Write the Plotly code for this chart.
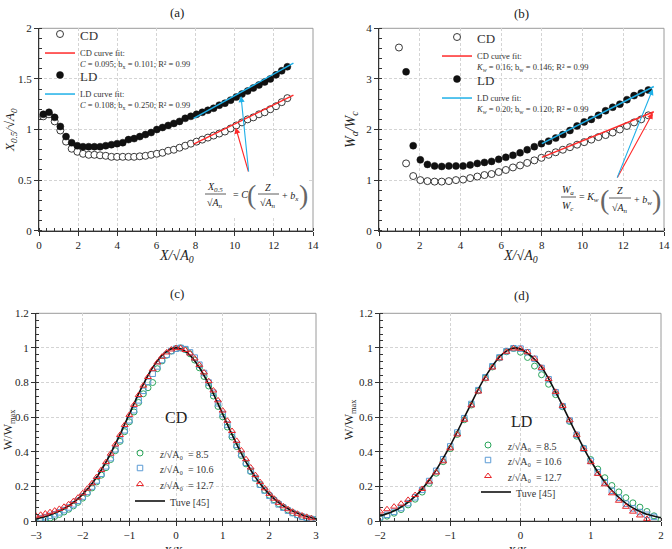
import plotly.graph_objects as go

# ---------------- data ----------------
# panel (a): X0.5/sqrt(A0) vs X/sqrt(A0)
a_x = [0.22, 0.51, 0.80, 1.09, 1.38, 1.67, 1.96, 2.25, 2.54, 2.83, 3.12, 3.41, 3.70, 3.99, 4.28,
       4.57, 4.86, 5.15, 5.44, 5.73, 6.02, 6.31, 6.60, 6.89, 7.18, 7.47, 7.76, 8.05, 8.34, 8.63,
       8.92, 9.21, 9.50, 9.79, 10.08, 10.37, 10.66, 10.95, 11.24, 11.53, 11.82, 12.11, 12.40, 12.69]
a_cd = [1.13, 1.15, 1.08, 0.99, 0.88, 0.81, 0.78, 0.76, 0.75, 0.75, 0.745, 0.74, 0.73, 0.73, 0.73,
        0.73, 0.73, 0.735, 0.74, 0.75, 0.76, 0.77, 0.79, 0.80, 0.82, 0.84, 0.86, 0.88, 0.90, 0.92,
        0.94, 0.96, 0.98, 1.01, 1.04, 1.07, 1.10, 1.12, 1.15, 1.17, 1.20, 1.23, 1.27, 1.31]
a_ld = [1.15, 1.17, 1.12, 1.03, 0.93, 0.87, 0.84, 0.83, 0.83, 0.83, 0.83, 0.84, 0.85, 0.86, 0.87,
        0.90, 0.91, 0.93, 0.95, 0.97, 1.00, 1.02, 1.04, 1.06, 1.08, 1.11, 1.13, 1.15, 1.17, 1.19,
        1.21, 1.24, 1.26, 1.29, 1.32, 1.35, 1.38, 1.41, 1.44, 1.47, 1.50, 1.54, 1.58, 1.62]
a_fit_x = [7.9, 13.0]
a_fit_cd = [0.855, 1.34]
a_fit_ld = [1.11, 1.655]

# panel (b): Wa/Wc vs X/sqrt(A0)
b_x = [0.98, 1.33, 1.68, 2.03, 2.38, 2.73, 3.08, 3.43, 3.78, 4.13, 4.48, 4.83, 5.18, 5.53, 5.88,
       6.23, 6.58, 6.93, 7.28, 7.63, 7.98, 8.33, 8.68, 9.03, 9.38, 9.73, 10.08, 10.43, 10.78, 11.13,
       11.48, 11.83, 12.18, 12.53, 12.88, 13.23]
b_cd = [3.62, 1.33, 1.08, 1.00, 0.98, 0.97, 0.97, 0.98, 1.00, 1.01, 1.04, 1.07, 1.10, 1.12, 1.16,
        1.20, 1.25, 1.29, 1.34, 1.39, 1.44, 1.50, 1.55, 1.60, 1.65, 1.70, 1.75, 1.80, 1.85, 1.89,
        1.94, 2.00, 2.07, 2.14, 2.20, 2.28]
b_ld = [None, 3.14, 1.68, 1.40, 1.31, 1.28, 1.27, 1.28, 1.28, 1.28, 1.30, 1.33, 1.35, 1.37, 1.41,
        1.45, 1.49, 1.54, 1.60, 1.66, 1.72, 1.77, 1.83, 1.90, 1.98, 2.07, 2.15, 2.20, 2.28, 2.37,
        2.44, 2.50, 2.59, 2.67, 2.72, 2.78]
b_fit_x = [8.0, 13.5]
b_fit_cd = [1.45, 2.35]
b_fit_ld = [1.72, 2.85]

# panel (c): CD profiles
c_x = [-3.0, -2.9, -2.8, -2.7, -2.6, -2.5, -2.4, -2.3, -2.2, -2.1, -2.0, -1.9, -1.8, -1.7, -1.6,
       -1.5, -1.4, -1.3, -1.2, -1.1, -1.0, -0.9, -0.8, -0.7, -0.6, -0.5, -0.4, -0.3, -0.2, -0.1,
       0.0, 0.1, 0.2, 0.3, 0.4, 0.5, 0.6, 0.7, 0.8, 0.9, 1.0, 1.1, 1.2, 1.3, 1.4, 1.5, 1.6, 1.7,
       1.8, 1.9, 2.0, 2.1, 2.2, 2.3, 2.4, 2.5, 2.6, 2.7, 2.8, 2.9, 3.0]
c_85 = [None, 0.003, 0.008, 0.016, 0.026, 0.038, 0.052, 0.068, 0.087, 0.108, 0.132, 0.160, 0.191,
        0.226, 0.265, 0.308, 0.355, 0.406, 0.460, 0.516, 0.573, 0.630, 0.685, 0.735, 0.770, 0.800,
        0.880, 0.925, 0.958, 0.982, 0.996, 1.000, 0.990, 0.966, 0.930, 0.885, 0.835, 0.780, 0.722,
        0.662, 0.602, 0.543, 0.485, 0.430, 0.378, 0.330, 0.286, 0.246, 0.210, 0.178, 0.149, 0.123,
        0.100, 0.080, 0.063, 0.048, 0.036, 0.026, 0.018, 0.012, 0.008]
c_106 = [None, 0.015, 0.022, 0.030, 0.039, 0.050, 0.063, 0.078, 0.096, 0.117, 0.141, 0.168, 0.199,
         0.234, 0.273, 0.316, 0.363, 0.414, 0.468, 0.524, 0.582, 0.640, 0.697, 0.752, 0.804, 0.851,
         0.893, 0.930, 0.960, 0.982, 0.995, 1.000, 0.993, 0.974, 0.944, 0.903, 0.855, 0.800, 0.741,
         0.680, 0.618, 0.557, 0.497, 0.440, 0.386, 0.336, 0.290, 0.248, 0.210, 0.176, 0.146, 0.119,
         0.096, 0.077, 0.060, 0.046, 0.035, 0.025, 0.017, 0.011, 0.007]
c_127 = [0.030, 0.036, 0.043, 0.051, 0.060, 0.070, 0.082, 0.097, 0.114, 0.135, 0.160, 0.187, 0.218,
         0.254, 0.295, 0.340, 0.389, 0.442, 0.497, 0.555, 0.613, 0.671, 0.728, 0.782, 0.832, 0.877,
         0.916, 0.949, 0.974, 0.991, 0.999, 0.999, 0.988, 0.968, 0.939, 0.902, 0.858, 0.808, 0.754,
         0.697, 0.638, 0.579, 0.520, 0.463, 0.408, 0.357, 0.309, 0.265, 0.225, 0.189, 0.157, 0.129,
         0.105, 0.085, 0.068, 0.054, 0.042, 0.032, 0.024, 0.016, None]
c_tuve_x = [-3.0, -2.75, -2.5, -2.25, -2.0, -1.75, -1.5, -1.25, -1.0, -0.75, -0.5, -0.25, 0.0,
            0.25, 0.5, 0.75, 1.0, 1.25, 1.5, 1.75, 2.0, 2.25, 2.5, 2.75, 3.0]
c_tuve = [0.012, 0.030, 0.057, 0.096, 0.154, 0.234, 0.341, 0.472, 0.618, 0.763, 0.887, 0.970, 1.0,
          0.970, 0.887, 0.763, 0.618, 0.472, 0.341, 0.234, 0.154, 0.096, 0.057, 0.030, 0.012]

# panel (d): LD profiles
d_x = [-2.0, -1.9, -1.8, -1.7, -1.6, -1.5, -1.4, -1.3, -1.2, -1.1, -1.0, -0.9, -0.8, -0.7, -0.6,
       -0.5, -0.4, -0.3, -0.2, -0.1, 0.0, 0.1, 0.2, 0.3, 0.4, 0.5, 0.6, 0.7, 0.8, 0.9, 1.0, 1.1,
       1.2, 1.3, 1.4, 1.5, 1.6, 1.7, 1.8, 1.9, 2.0]
d_85 = [0.015, 0.028, 0.045, 0.066, 0.093, 0.126, 0.167, 0.217, 0.276, 0.343, 0.418, 0.500, 0.585,
        0.670, 0.752, 0.826, 0.890, 0.942, 0.978, 0.997, 0.975, 0.945, 0.895, 0.845, 0.790, 0.730,
        0.660, 0.575, 0.490, 0.420, 0.355, 0.300, 0.250, 0.205, 0.168, 0.135, 0.105, 0.080, 0.055,
        0.030, 0.005]
d_106 = [0.022, 0.036, 0.053, 0.075, 0.103, 0.137, 0.180, 0.231, 0.290, 0.357, 0.431, 0.511, 0.594,
         0.676, 0.756, 0.830, 0.894, 0.945, 0.981, 0.998, 0.996, 0.975, 0.937, 0.884, 0.819, 0.744,
         0.663, 0.580, 0.498, 0.419, 0.347, 0.281, 0.224, 0.175, 0.134, 0.100, 0.073, 0.052, 0.036,
         0.024, None]
d_127 = [0.055, 0.068, 0.083, 0.100, 0.122, 0.150, 0.185, 0.228, 0.280, 0.345, 0.420, 0.500, 0.585,
         0.668, 0.748, 0.822, 0.887, 0.940, 0.978, 0.997, 0.995, 0.975, 0.938, 0.885, 0.820, 0.746,
         0.665, 0.582, 0.498, 0.416, 0.340, 0.272, 0.212, 0.160, 0.117, 0.082, 0.054, 0.032, 0.012,
         None, None]
d_tuve_x = [-2.0, -1.75, -1.5, -1.25, -1.0, -0.75, -0.5, -0.25, -0.06, 0.25, 0.5, 0.75, 1.0, 1.25,
            1.5, 1.75, 2.0]
d_tuve = [0.029, 0.068, 0.142, 0.264, 0.436, 0.639, 0.834, 0.967, 1.0, 0.914, 0.745, 0.540, 0.348,
          0.199, 0.102, 0.046, 0.019]

# ---------------- styling helpers ----------------
W, H = 672, 549
FONT = "Liberation Serif, Times New Roman, serif"
GREEN, BLUE, RED, CYAN = "#2aa55a", "#5b9bd5", "#e8262a", "#1fb0e8"
RED_FIT = "#ff2a2a"


def PX(x):
    return x / W


def PY(y):
    return 1 - y / H


def axis(domain, rng, dtick, mdtick, anchor):
    return dict(domain=domain, range=rng, dtick=dtick, anchor=anchor, automargin=False,
                showgrid=True, gridcolor="#d4d4d4", griddash="3px,2px", gridwidth=1,
                showline=True, linecolor="#333", linewidth=1, zeroline=False,
                ticks="outside", ticklen=4, tickcolor="#333", tickwidth=1,
                minor=dict(dtick=mdtick, ticks="inside", ticklen=3, tickcolor="#333", showgrid=False),
                tickfont=dict(family=FONT, size=11, color="#222"), fixedrange=True)


fig = go.Figure()

OPEN = dict(symbol="circle", size=7, color="white", line=dict(color="#222", width=0.9))
FILLED = dict(symbol="circle", size=7, color="#111", line=dict(color="#111", width=0.5))

# panel (a)
fig.add_trace(go.Scatter(x=a_x, y=a_cd, mode="markers", xaxis="x", yaxis="y", legend="legend",
                         name="<span style='font-size:13px'>CD</span>", marker=OPEN))
fig.add_trace(go.Scatter(x=a_fit_x, y=a_fit_cd, mode="lines", xaxis="x", yaxis="y", legend="legend",
                         name="CD curve fit:<br><i>C</i> = 0.095; b<sub>x</sub> = 0.101; R² = 0.99",
                         line=dict(color=RED_FIT, width=1.5)))
fig.add_trace(go.Scatter(x=a_x, y=a_ld, mode="markers", xaxis="x", yaxis="y", legend="legend5",
                         name="<span style='font-size:13px'>LD</span>", marker=FILLED))
fig.add_trace(go.Scatter(x=a_fit_x, y=a_fit_ld, mode="lines", xaxis="x", yaxis="y", legend="legend5",
                         name="LD curve fit:<br><i>C</i> = 0.108; b<sub>x</sub> = 0.250; R² = 0.99",
                         line=dict(color=CYAN, width=1.5)))

# panel (b)
fig.add_trace(go.Scatter(x=b_x, y=b_cd, mode="markers", xaxis="x2", yaxis="y2", legend="legend2",
                         name="<span style='font-size:13px'>CD</span>", marker=OPEN))
fig.add_trace(go.Scatter(x=b_fit_x, y=b_fit_cd, mode="lines", xaxis="x2", yaxis="y2", legend="legend2",
                         name="CD curve fit:<br><i>K<sub>w</sub></i> = 0.16; b<sub>w</sub> = 0.146; R² = 0.99",
                         line=dict(color=RED_FIT, width=1.5)))
fig.add_trace(go.Scatter(x=b_x, y=b_ld, mode="markers", xaxis="x2", yaxis="y2", legend="legend6",
                         name="<span style='font-size:13px'>LD</span>", marker=FILLED))
fig.add_trace(go.Scatter(x=b_fit_x, y=b_fit_ld, mode="lines", xaxis="x2", yaxis="y2", legend="legend6",
                         name="LD curve fit:<br><i>K<sub>w</sub></i> = 0.20; b<sub>w</sub> = 0.120; R² = 0.99",
                         line=dict(color=CYAN, width=1.5)))

# panels (c) and (d): one single-entry legend per series so rows sit as in the reference
lab = "<i>z</i>/√A₀  = "
for xs, s85, s106, s127, tx, ty, xa, ya, lgs in [
        (c_x, c_85, c_106, c_127, c_tuve_x, c_tuve, "x3", "y3", ["legend3", "legend7", "legend8", "legend9"]),
        (d_x, d_85, d_106, d_127, d_tuve_x, d_tuve, "x4", "y4", ["legend4", "legend10", "legend11", "legend12"])]:
    fig.add_trace(go.Scatter(x=xs, y=s85, mode="markers", xaxis=xa, yaxis=ya, legend=lgs[0],
                             name=lab + "8.5",
                             marker=dict(symbol="circle-open", size=6, color=GREEN, line=dict(width=1))))
    fig.add_trace(go.Scatter(x=xs, y=s106, mode="markers", xaxis=xa, yaxis=ya, legend=lgs[1],
                             name=lab + "10.6",
                             marker=dict(symbol="square-open", size=5.5, color=BLUE, line=dict(width=1))))
    fig.add_trace(go.Scatter(x=tx, y=ty, mode="lines", xaxis=xa, yaxis=ya, legend=lgs[3],
                             name="Tuve [45]", line=dict(color="#111", width=1.6, shape="spline")))
    fig.add_trace(go.Scatter(x=xs, y=s127, mode="markers", xaxis=xa, yaxis=ya, legend=lgs[2],
                             name=lab + "12.7",
                             marker=dict(symbol="triangle-up-open", size=6, color=RED, line=dict(width=1))))

ytop = [PY(230.7), PY(28.3)]
ybot = [PY(521), PY(313.3)]

leg_common = dict(xanchor="left", yanchor="top", bgcolor="rgba(0,0,0,0)", valign="top",
                  itemwidth=30, tracegroupgap=0, traceorder="normal")
small = dict(family=FONT, size=8.5, color="#333")
mid = dict(family=FONT, size=10, color="#333")


def leg(x, y, font):
    return dict(x=PX(x), y=PY(y), font=font, **leg_common)


fig.update_layout(
    width=W, height=H, margin=dict(l=0, r=0, t=0, b=0),
    paper_bgcolor="white", plot_bgcolor="white",
    font=dict(family=FONT, size=11, color="#222"),
    xaxis=axis([PX(39), PX(313)], [0, 14], 2, 0.4, "y"),
    yaxis=axis(ytop, [0, 2], 0.5, 0.1, "x"),
    xaxis2=axis([PX(379), PX(664)], [0, 14], 2, 0.4, "y2"),
    yaxis2=axis(ytop, [0, 4], 1, 0.2, "x2"),
    xaxis3=axis([PX(36), PX(316)], [-3, 3], 1, 0.2, "y3"),
    yaxis3=axis(ybot, [0, 1.2], 0.2, 0.04, "x3"),
    xaxis4=axis([PX(380), PX(661)], [-2, 2], 1, 0.2, "y4"),
    yaxis4=axis(ybot, [0, 1.2], 0.2, 0.04, "x4"),
    legend=leg(40, 22, small),
    legend5=leg(40, 63, small),
    legend2=leg(437, 25, small),
    legend6=leg(437, 67, small),
    legend3=leg(120, 440, mid),
    legend7=leg(120, 455, mid),
    legend8=leg(120, 471, mid),
    legend9=leg(130, 488, mid),
    legend4=leg(468, 432, mid),
    legend10=leg(468, 447, mid),
    legend11=leg(468, 463, mid),
    legend12=leg(476, 479, mid),
)

shapes = []
# light grey frame on each panel
for xr, yr in [("x", "y"), ("x2", "y2"), ("x3", "y3"), ("x4", "y4")]:
    shapes.append(dict(type="rect", xref=xr + " domain", yref=yr + " domain", x0=0, x1=1, y0=0, y1=1,
                       line=dict(color="#9a9a9a", width=1), layer="below"))

annotations = []


def txt(x, y, s, size=11, italic=False, color="#222", angle=0, xanchor="center"):
    if italic:
        s = "<i>" + s + "</i>"
    annotations.append(dict(x=PX(x), y=PY(y), xref="paper", yref="paper", text=s, showarrow=False,
                            font=dict(family=FONT, size=size, color=color), textangle=angle,
                            xanchor=xanchor, yanchor="middle"))


# panel titles
txt(177, 13, "(a)", 13)
txt(521, 14, "(b)", 13)
txt(177, 293, "(c)", 13)
txt(521, 295, "(d)", 13)

# axis titles
txt(176, 256, "X/√A<sub>0</sub>", 14, italic=True)
txt(520, 256, "X/√A<sub>0</sub>", 14, italic=True)
txt(11, 130, "X<sub>0.5</sub>/√A<sub>0</sub>", 13, italic=True, angle=-90)
txt(352, 130, "W<sub>a</sub>/W<sub>c</sub>", 14, italic=True, angle=-90)
txt(9, 430, "W/W<sub>max</sub>", 12, angle=-90)
txt(350, 420, "W/W<sub>max</sub>", 12, angle=-90)
txt(177, 552, "X/X<sub>0.5</sub>", 12, italic=True)
txt(521, 552, "X/X<sub>0.5</sub>", 12, italic=True)

# CD / LD labels in profile panels
txt(176, 417, "CD", 16)
txt(521, 421, "LD", 16)

# equation (a)
shapes.append(dict(type="rect", xref="paper", yref="paper", x0=PX(201), x1=PX(308), y0=PY(216), y1=PY(178),
                   fillcolor="white", line=dict(width=0), layer="above"))
txt(215, 187, "X<sub>0.5</sub>", 10, italic=True)
txt(215, 204, "√A<sub>n</sub>", 10, italic=True)
shapes.append(dict(type="line", xref="paper", yref="paper", x0=PX(205), x1=PX(226), y0=PY(194), y1=PY(194),
                   line=dict(color="#333", width=0.8), layer="above"))
txt(240, 195, "= <i>C</i>", 10)
txt(251, 195, "(", 28, color="#666")
txt(268, 187, "Z", 10, italic=True)
txt(268, 204, "√A<sub>n</sub>", 10, italic=True)
shapes.append(dict(type="line", xref="paper", yref="paper", x0=PX(258), x1=PX(279), y0=PY(194), y1=PY(194),
                   line=dict(color="#333", width=0.8), layer="above"))
txt(290, 196, "+ <i>b<sub>x</sub></i>", 10)
txt(303, 195, ")", 28, color="#666")

# equation (b)
shapes.append(dict(type="rect", xref="paper", yref="paper", x0=PX(557), x1=PX(662), y0=PY(222), y1=PY(181),
                   fillcolor="white", line=dict(width=0), layer="above"))
txt(568, 190, "W<sub>a</sub>", 10, italic=True)
txt(568, 206, "W<sub>c</sub>", 10, italic=True)
shapes.append(dict(type="line", xref="paper", yref="paper", x0=PX(561), x1=PX(576), y0=PY(197), y1=PY(197),
                   line=dict(color="#333", width=0.8), layer="above"))
txt(589, 198, "= <i>K<sub>w</sub></i>", 10)
txt(604, 199, "(", 28, color="#666")
txt(620, 190, "Z", 10, italic=True)
txt(620, 208, "√A<sub>n</sub>", 10, italic=True)
shapes.append(dict(type="line", xref="paper", yref="paper", x0=PX(609), x1=PX(631), y0=PY(198), y1=PY(198),
                   line=dict(color="#333", width=0.8), layer="above"))
txt(643, 200, "+ <i>b<sub>w</sub></i>", 10)
txt(656, 199, ")", 28, color="#666")


def arrow(xr, yr, tail, head, color):
    annotations.append(dict(xref=xr, yref=yr, axref=xr, ayref=yr, x=head[0], y=head[1], ax=tail[0], ay=tail[1],
                            text="", showarrow=True, arrowhead=2, arrowsize=1.1, arrowwidth=1.1,
                            arrowcolor=color, standoff=0, startstandoff=0))


arrow("x", "y", (10.72, 0.57), (10.05, 1.02), RED_FIT)
arrow("x", "y", (10.72, 0.57), (10.32, 1.33), CYAN)
arrow("x2", "y2", (11.67, 1.02), (13.45, 2.33), RED_FIT)
arrow("x2", "y2", (11.67, 1.02), (13.45, 2.80), CYAN)

fig.update_layout(shapes=shapes, annotations=annotations)
fig.write_html("out.html")
